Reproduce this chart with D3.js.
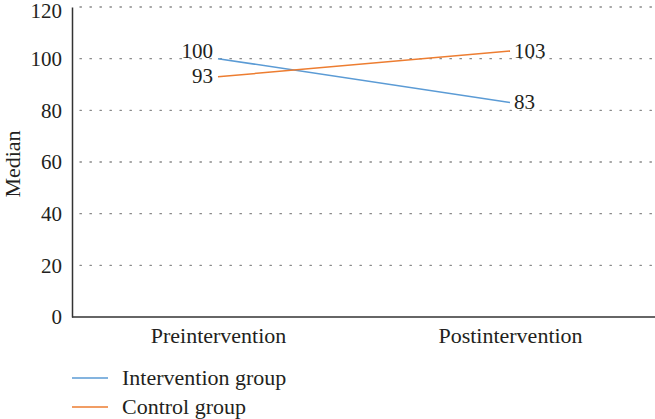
<!DOCTYPE html>
<html><head><meta charset="utf-8">
<script src="https://cdn.jsdelivr.net/npm/d3@7"></script>
<style>body{margin:0;background:#fff}svg{display:block}text{font-family:"Liberation Serif","Times New Roman",serif;fill:#231f20}</style>
</head><body><svg id="c" width="655" height="419"></svg>
<script>
const categories = ["Preintervention", "Postintervention"];
const interventionValues = [100, 83];
const controlValues = [93, 103];
const yTicks = [0, 20, 40, 60, 80, 100, 120];
const seriesNames = ["Intervention group", "Control group"];
const colors = ["#5b9bd5", "#ed7d31"];
const FS = 21, FL = 22;

const svg = d3.select("#c");
const m = {left: 72, right: 656, top: 7, bottom: 317};
const x = d3.scalePoint().domain(categories).range([m.left, m.right]).padding(0.5);
const y = d3.scaleLinear().domain([0, 120]).range([m.bottom, m.top]);

// gridlines
svg.append("g").selectAll("line").data(yTicks.filter(d => d > 0)).join("line")
  .attr("x1", m.left + 8).attr("x2", m.right).attr("y1", d => y(d)).attr("y2", d => y(d))
  .attr("stroke", "#8a8a8a").attr("stroke-width", 1.4).attr("stroke-dasharray", "1.4,8.6").attr("stroke-linecap", "round");

// axes
const ya = svg.append("g").attr("transform", `translate(${m.left},0)`)
  .call(d3.axisLeft(y).tickValues(yTicks).tickSize(0).tickPadding(10));
ya.attr("font-size", FS).attr("font-family", "Liberation Serif");
ya.select(".domain").attr("stroke", "#333").attr("stroke-width", 1.5);
ya.selectAll("text").attr("fill", "#231f20").attr("dy", d => d === 120 ? "0.5em" : "0.32em");

const xa = svg.append("g").attr("transform", `translate(0,${m.bottom})`)
  .call(d3.axisBottom(x).tickSize(0).tickPadding(0));
xa.attr("font-size", FL).attr("font-family", "Liberation Serif");
xa.select(".domain").attr("d", `M${m.left},0H${m.right}`).attr("stroke", "#333").attr("stroke-width", 1.5);
xa.selectAll("text").attr("fill", "#231f20").attr("y", 26).attr("dy", null);

svg.append("text").attr("transform", `translate(20,${(m.top + m.bottom) / 2 + 2}) rotate(-90)`)
  .attr("text-anchor", "middle").attr("font-size", FL).text("Median");

const series = [interventionValues, controlValues];
const line = d3.line().x((d, i) => x(categories[i])).y(d => y(d));
series.forEach((vals, s) => {
  svg.append("path").attr("d", line(vals)).attr("fill", "none").attr("stroke", colors[s]).attr("stroke-width", 1.5);
  vals.forEach((v, i) => {
    const dy = (s === 0 && i === 0) ? -7 : 0;
    svg.append("text").attr("x", x(categories[i]) + (i === 0 ? -5 : 4)).attr("y", y(v) + dy)
      .attr("dy", "0.32em").attr("text-anchor", i === 0 ? "end" : "start").attr("font-size", FS).text(v);
  });
});

// legend
seriesNames.forEach((n, i) => {
  const ly = 378 + i * 29;
  svg.append("line").attr("x1", 72).attr("x2", 108).attr("y1", ly).attr("y2", ly).attr("stroke", colors[i]).attr("stroke-width", 1.5);
  svg.append("text").attr("x", 122).attr("y", ly + 7).attr("font-size", FL).text(n);
});
</script></body></html>
